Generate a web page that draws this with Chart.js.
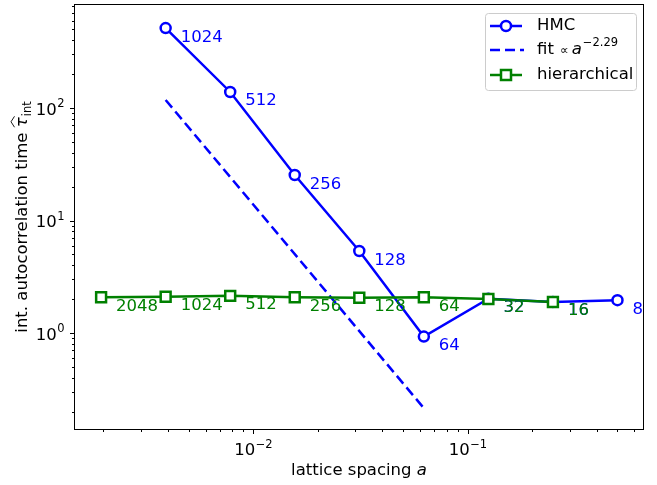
<!DOCTYPE html>
<html>
<head>
<meta charset="utf-8">
<script src="https://cdn.jsdelivr.net/npm/chart.js@4.4.1/dist/chart.umd.min.js"></script>
<style>
html,body{margin:0;padding:0;background:#fff}
#wrap{width:657px;height:485px}
</style>
</head>
<body>
<div id="wrap"><canvas id="chart" width="657" height="485"></canvas></div>
<script>
// lattice spacings, tau_int and lattice sizes
const hmcA=[1/256,1/128,1/64,1/32,1/16,1/8,1/4,1/2];
const hmcTau=[514,139,25.4,5.36,0.93,2.02,1.89,1.96];
const hmcSizes=['1024','512','256','128','64','32','16','8'];
const hierA=[1/512,1/256,1/128,1/64,1/32,1/16,1/8,1/4];
const hierTau=[2.08,2.1,2.14,2.08,2.06,2.08,2.01,1.89];
const hierSizes=['2048','1024','512','256','128','64','32','16'];
const fitA=[1/256,1/16];
const fitTau=[118,0.215];
const xDecades=[-2,-1];
const yDecades=[0,1,2];

const BLUE='#0000ff', GREEN='#008000';
const FONT='"DejaVu Sans", sans-serif';
const F='16.5px '+FONT, FI='italic 16.5px '+FONT, FS='11.5px '+FONT;

const pts=(xs,ys)=>xs.map((x,i)=>({x:x,y:ys[i]}));

// base "10" with a raised exponent
function drawPow(ctx,exp,x,y,align){
  ctx.font=F;
  const wb=ctx.measureText('10').width;
  ctx.font=FS;
  const we=ctx.measureText(exp).width;
  const tot=wb+we;
  let x0=x;
  if(align==='center') x0=x-tot/2;
  else if(align==='right') x0=x-tot;
  ctx.textAlign='left'; ctx.textBaseline='alphabetic';
  ctx.font=F; ctx.fillText('10',x0,y);
  ctx.font=FS; ctx.fillText(exp,x0+wb+0.5,y-7.5);
}
const supNum=n=>(n<0?'\u2212':'')+Math.abs(n);

const axesPlugin={
  id:'axesPlugin',
  afterDatasetsDraw(chart){
    const ctx=chart.ctx;
    // size labels beside the points
    [[0,hmcSizes,BLUE],[2,hierSizes,GREEN]].forEach(([di,labels,col])=>{
      const meta=chart.getDatasetMeta(di);
      ctx.save();
      ctx.fillStyle=col; ctx.font=F;
      ctx.textAlign='left'; ctx.textBaseline='alphabetic';
      meta.data.forEach((p,i)=>ctx.fillText(labels[i],p.x+15,p.y+13.5));
      ctx.restore();
    });
  },
  afterDraw(chart){
    const ctx=chart.ctx, a=chart.chartArea;
    const xs=chart.scales.x, ys=chart.scales.y;
    ctx.save();
    ctx.strokeStyle='#000'; ctx.lineWidth=1;
    ctx.strokeRect(a.left-0.5,a.top-0.5,a.right-a.left+1,a.bottom-a.top+1);
    ctx.fillStyle='#000';
    // x ticks
    for(let n=-3;n<=0;n++){
      for(let k=1;k<=9;k++){
        const v=k*Math.pow(10,n);
        if(v<xs.min||v>xs.max) continue;
        const px=Math.round(xs.getPixelForValue(v))+0.5;
        const len=k===1?5:3;
        ctx.beginPath(); ctx.moveTo(px,a.bottom); ctx.lineTo(px,a.bottom+len); ctx.stroke();
      }
    }
    xDecades.forEach(n=>drawPow(ctx,supNum(n),xs.getPixelForValue(Math.pow(10,n)),a.bottom+26,'center'));
    // y ticks
    for(let n=-1;n<=3;n++){
      for(let k=1;k<=9;k++){
        const v=k*Math.pow(10,n);
        if(v<ys.min||v>ys.max) continue;
        const py=Math.round(ys.getPixelForValue(v))+0.5;
        const len=k===1?5:3;
        ctx.beginPath(); ctx.moveTo(a.left,py); ctx.lineTo(a.left-len,py); ctx.stroke();
      }
    }
    yDecades.forEach(n=>drawPow(ctx,String(n),a.left-11,ys.getPixelForValue(Math.pow(10,n))+6.5,'right'));

    // x axis title
    ctx.font=F;
    const t1='lattice spacing ';
    const w1=ctx.measureText(t1).width;
    ctx.font=FI;
    const w2=ctx.measureText('a').width;
    const xc=(a.left+a.right)/2, x0=xc-(w1+w2)/2;
    ctx.textAlign='left';
    ctx.font=F; ctx.fillText(t1,x0,475);
    ctx.font=FI; ctx.fillText('a',x0+w1,475);

    // y axis title
    ctx.save();
    ctx.font=F;
    const s1='int. autocorrelation time ';
    const ws1=ctx.measureText(s1).width;
    ctx.font=FI;
    const wt=ctx.measureText('\u03c4').width;
    ctx.font=FS;
    const ws=ctx.measureText('int').width;
    const tot=ws1+wt+ws+1;
    ctx.translate(27,(a.top+a.bottom)/2+tot/2);
    ctx.rotate(-Math.PI/2);
    ctx.font=F; ctx.fillText(s1,0,0);
    ctx.font=FI; ctx.fillText('\u03c4',ws1,0);
    ctx.lineWidth=0.9;
    ctx.beginPath();
    ctx.moveTo(ws1,-12.5); ctx.lineTo(ws1+wt/2+0.5,-16); ctx.lineTo(ws1+wt+1,-12.5);
    ctx.stroke();
    ctx.font=FS; ctx.fillText('int',ws1+wt+1,3.5);
    ctx.restore();

    // legend
    const lx=485, ly=13, lw=151, lh=77;
    ctx.beginPath();
    ctx.roundRect(lx+0.5,ly+0.5,lw,lh,3);
    ctx.fillStyle='rgba(255,255,255,0.8)'; ctx.fill();
    ctx.strokeStyle='#cccccc'; ctx.lineWidth=1; ctx.stroke();
    const rows=[26,50,75];
    const hx0=490, hx1=522, tx=537;
    ctx.lineWidth=2.5;
    // HMC
    ctx.strokeStyle=BLUE;
    ctx.beginPath(); ctx.moveTo(hx0,rows[0]); ctx.lineTo(hx1,rows[0]); ctx.stroke();
    ctx.beginPath(); ctx.arc((hx0+hx1)/2,rows[0],5,0,Math.PI*2);
    ctx.fillStyle='#fff'; ctx.fill(); ctx.stroke();
    // fit
    ctx.setLineDash([10,5]);
    ctx.beginPath(); ctx.moveTo(hx0,rows[1]); ctx.lineTo(hx1+2,rows[1]); ctx.stroke();
    ctx.setLineDash([]);
    // hierarchical
    ctx.strokeStyle=GREEN;
    ctx.beginPath(); ctx.moveTo(hx0,rows[2]); ctx.lineTo(hx1,rows[2]); ctx.stroke();
    ctx.fillStyle='#fff';
    ctx.fillRect((hx0+hx1)/2-5,rows[2]-5,10,10);
    ctx.strokeRect((hx0+hx1)/2-5,rows[2]-5,10,10);
    ctx.fillStyle='#000';
    ctx.font=F; ctx.textBaseline='middle';
    ctx.fillText('HMC',tx,rows[0]);
    ctx.fillText('hierarchical',tx,rows[2]);
    ctx.fillText('fit',tx,rows[1]);
    let fx=tx+ctx.measureText('fit ').width+1;
    ctx.font='12px '+FONT; ctx.fillText('\u221d',fx,rows[1]+1);
    fx+=ctx.measureText('\u221d').width+3;
    ctx.font=FI; ctx.fillText('a',fx,rows[1]);
    fx+=ctx.measureText('a').width+1;
    ctx.font=FS; ctx.fillText('\u22122.29',fx,rows[1]-7);
    ctx.restore();
  }
};

new Chart(document.getElementById('chart'),{
  type:'line',
  data:{
    datasets:[
      {label:'HMC',data:pts(hmcA,hmcTau),borderColor:BLUE,borderWidth:2.5,
       pointStyle:'circle',pointRadius:5,pointBorderWidth:2.5,pointBackgroundColor:'#fff',
       pointBorderColor:BLUE,fill:false,tension:0,order:2},
      {label:'fit',data:pts(fitA,fitTau),borderColor:BLUE,borderWidth:2.5,borderDash:[10,5],
       pointRadius:0,fill:false,tension:0,order:1},
      {label:'hierarchical',data:pts(hierA,hierTau),borderColor:GREEN,borderWidth:2.5,
       pointStyle:'rect',pointRadius:7,pointBorderWidth:2.5,pointBackgroundColor:'#fff',
       pointBorderColor:GREEN,fill:false,tension:0,order:0}
    ]
  },
  options:{
    responsive:false,
    devicePixelRatio:1,
    animation:false,
    layout:{autoPadding:false,padding:{left:75,top:5,right:14,bottom:56}},
    plugins:{legend:{display:false},tooltip:{enabled:false}},
    scales:{
      x:{type:'logarithmic',display:false,min:Math.pow(10,-2.831),max:Math.pow(10,-0.182)},
      y:{type:'logarithmic',display:false,min:Math.pow(10,-0.853),max:Math.pow(10,2.916)}
    }
  },
  plugins:[axesPlugin]
});
</script>
</body>
</html>
